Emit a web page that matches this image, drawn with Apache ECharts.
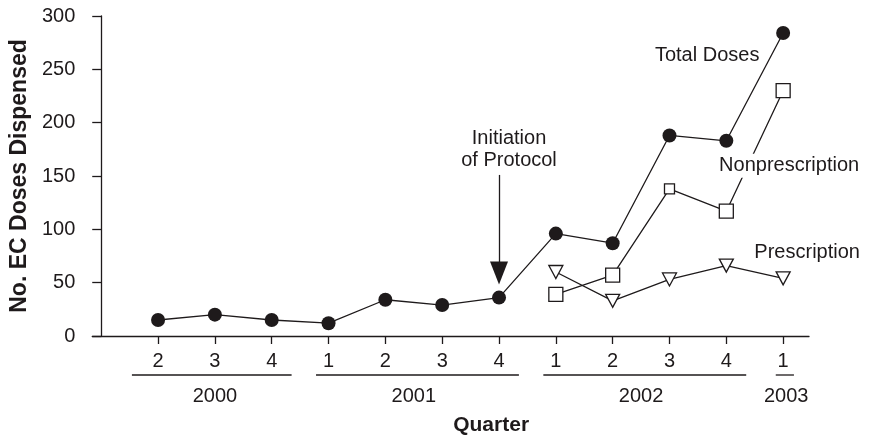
<!DOCTYPE html>
<html>
<head>
<meta charset="utf-8">
<script src="https://cdn.jsdelivr.net/npm/echarts@6/dist/echarts.min.js"></script>
<style>html,body{margin:0;padding:0;background:#fff;}#c{width:875px;height:441px;}</style>
</head>
<body>
<div id="c"></div>
<script>
// ---- data ----
const quarterLabels = ['2','3','4','1','2','3','4','1','2','3','4','1'];
const quarterYears = ['2000','2000','2000','2001','2001','2001','2001','2002','2002','2002','2002','2003'];
const totalDoses = [15, 20, 15, 12, 34, 29, 36, 96, 87, 188, 183, 284];
const nonprescriptionDoses = [null, null, null, null, null, null, null, 39, 57, 138, 117, 230];
const prescriptionDoses = [null, null, null, null, null, null, null, 60, 33, 53, 66, 54];
const yTickValues = [0, 50, 100, 150, 200, 250, 300];
const seriesNames = ['Total Doses', 'Nonprescription', 'Prescription'];
const protocolLabel = 'Initiation\nof Protocol';
const yAxisTitle = 'No. EC Doses Dispensed';
const xAxisTitle = 'Quarter';

// ---- styling ----
const INK = '#1e1a1b';
const FONT = 'Liberation Sans, Arial, Helvetica, sans-serif';
const FS = 20;

const xPositions = quarterLabels.map((_, i) => i + 1);
function toPairs(arr) {
  return arr.map((v, i) => [i + 1, v]).filter(d => d[1] != null);
}

// year groups from quarters
const groups = [];
quarterYears.forEach((y, i) => {
  const last = groups[groups.length - 1];
  if (last && last.year === y) last.end = i + 1;
  else groups.push({ year: y, start: i + 1, end: i + 1 });
});
const groupData = groups.map((g, k) => [g.start, g.end, k]);

function labelItem(x, v, text, offset, extra) {
  return {
    value: [x, v],
    label: Object.assign({
      show: true, position: 'inside', offset: offset, formatter: text,
      color: INK, fontFamily: FONT, fontSize: FS
    }, extra || {})
  };
}

const totalData = toPairs(totalDoses).map(d => {
  if (d[0] === 12) return labelItem(d[0], d[1], seriesNames[0], [-76, 22]);
  if (d[0] === 7) return labelItem(d[0], d[1], protocolLabel, [10, -148], { lineHeight: 22 });
  return d;
});
const nonpData = toPairs(nonprescriptionDoses).map(d => {
  const item = { value: d };
  if (d[0] === 10) item.symbolSize = 10;
  if (d[0] === 12) {
    item.label = { show: true, position: 'inside', offset: [6, 75], formatter: seriesNames[1],
      color: INK, fontFamily: FONT, fontSize: FS, backgroundColor: '#fff', padding: [2, 3] };
  }
  return item;
});
const prescData = toPairs(prescriptionDoses).map(d => {
  if (d[0] === 12) return labelItem(d[0], d[1], seriesNames[2], [24, -26]);
  return d;
});

const chart = echarts.init(document.getElementById('c'), null, { renderer: 'canvas' });
chart.setOption({
  animation: false,
  backgroundColor: '#fff',
  grid: { left: 89, right: 66, top: 16, bottom: 101, containLabel: false },
  xAxis: {
    type: 'value',
    min: -0.1577, max: 12.455,
    name: xAxisTitle, nameLocation: 'middle', nameGap: 79,
    nameTextStyle: { color: INK, fontFamily: FONT, fontSize: 21, fontWeight: 'bold', padding: [0, 0, 0, 81] },
    axisLine: { show: true, onZero: true, lineStyle: { color: INK, width: 1.3 } },
    axisTick: { show: true, inside: false, length: 8, customValues: xPositions, lineStyle: { color: INK, width: 1.3 } },
    axisLabel: { show: true, margin: 15, customValues: xPositions, color: INK, fontFamily: FONT, fontSize: FS,
      formatter: v => quarterLabels[Math.round(v) - 1] || '' },
    splitLine: { show: false }
  },
  yAxis: {
    type: 'value',
    min: 0, max: 300, interval: 50,
    name: yAxisTitle, nameLocation: 'middle', nameGap: 58, nameRotate: 90,
    nameTextStyle: { color: INK, fontFamily: FONT, fontSize: 23, fontWeight: 'bold' },
    axisLine: { show: true, onZero: true, lineStyle: { color: INK, width: 1.3 } },
    axisTick: { show: true, inside: false, length: 9, lineStyle: { color: INK, width: 1.3 } },
    axisLabel: { show: true, margin: 17, color: INK, fontFamily: FONT, fontSize: FS,
      customValues: yTickValues },
    splitLine: { show: false }
  },
  series: [
    {
      name: seriesNames[0], type: 'line', data: totalData,
      symbol: 'circle', symbolSize: 14,
      itemStyle: { color: INK },
      lineStyle: { color: INK, width: 1.3 },
      z: 3,
      markLine: {
        silent: true, symbol: ['none', 'triangle'], symbolSize: [18, 23],
        lineStyle: { color: INK, width: 1.3, type: 'solid' },
        label: { show: false },
        data: [[{ coord: [7, 151] }, { coord: [7, 59] }]]
      }
    },
    {
      name: seriesNames[1], type: 'line', data: nonpData,
      symbol: 'rect', symbolSize: 14,
      itemStyle: { color: '#fff', borderColor: INK, borderWidth: 1.3 },
      lineStyle: { color: INK, width: 1.3 },
      z: 4
    },
    {
      name: seriesNames[2], type: 'line', data: prescData,
      symbol: 'triangle', symbolRotate: 180, symbolSize: [14, 13],
      itemStyle: { color: '#fff', borderColor: INK, borderWidth: 1.3 },
      lineStyle: { color: INK, width: 1.3 },
      z: 5
    },
    {
      type: 'custom', silent: true, clip: false,
      data: groupData,
      encode: { x: 0, y: 2 },
      renderItem: function (params, api) {
        const s = api.value(0), e = api.value(1), k = api.value(2);
        const single = s === e;
        const padL = single ? 0.13 : (k === 0 ? 0.46 : 0.22);
        const padR = single ? 0.19 : 0.35;
        const p1 = api.coord([s - padL, 0]);
        const p2 = api.coord([e + padR, 0]);
        const c1 = api.coord([s, 0]);
        const c2 = api.coord([e, 0]);
        return {
          type: 'group',
          children: [
            { type: 'line', shape: { x1: p1[0], y1: p1[1] + 39, x2: p2[0], y2: p2[1] + 39 },
              style: { stroke: INK, lineWidth: 1.3 } },
            { type: 'text', x: (c1[0] + c2[0]) / 2 + (single ? 3 : 0), y: c1[1] + 60,
              style: { text: groups[k].year, fill: INK, fontFamily: FONT, fontSize: FS,
                align: 'center', verticalAlign: 'middle' } }
          ]
        };
      }
    }
  ]
});
</script>
</body>
</html>
